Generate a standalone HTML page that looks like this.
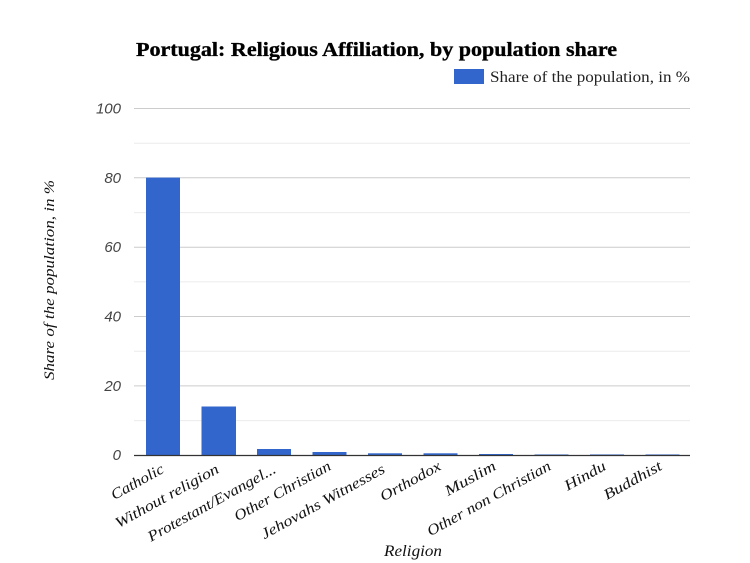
<!DOCTYPE html>
<html>
<head>
<meta charset="utf-8">
<style>
  html, body { margin: 0; padding: 0; background: #ffffff; }
  svg { display: block; }
  text { font-family: "Liberation Serif", "DejaVu Serif", serif; }
  text.sans { font-family: "Liberation Sans", "DejaVu Sans", sans-serif; }
</style>
</head>
<body>
<svg width="750" height="563" viewBox="0 0 750 563" xmlns="http://www.w3.org/2000/svg">
  <rect x="0" y="0" width="750" height="563" fill="#ffffff"/>

  <!-- Title -->
  <text x="136" y="56" font-size="20" font-weight="bold" fill="#000" stroke="#000" stroke-width="0.35" textLength="481" lengthAdjust="spacingAndGlyphs">Portugal: Religious Affiliation, by population share</text>

  <!-- Legend -->
  <rect x="454" y="69" width="30" height="15" fill="#3366cc"/>
  <text x="490" y="82" font-size="16" fill="#222" textLength="200" lengthAdjust="spacingAndGlyphs">Share of the population, in %</text>

  <!-- Minor gridlines -->
  <g stroke="#ebebeb" stroke-width="1">
    <line x1="134" y1="143.2" x2="690" y2="143.2"/>
    <line x1="134" y1="212.6" x2="690" y2="212.6"/>
    <line x1="134" y1="281.9" x2="690" y2="281.9"/>
    <line x1="134" y1="351.3" x2="690" y2="351.3"/>
    <line x1="134" y1="420.6" x2="690" y2="420.6"/>
  </g>
  <!-- Major gridlines -->
  <g stroke="#cccccc" stroke-width="1">
    <line x1="134" y1="108.5" x2="690" y2="108.5"/>
    <line x1="134" y1="177.8" x2="690" y2="177.8"/>
    <line x1="134" y1="247.2" x2="690" y2="247.2"/>
    <line x1="134" y1="316.5" x2="690" y2="316.5"/>
    <line x1="134" y1="385.9" x2="690" y2="385.9"/>
  </g>

  <!-- Y axis labels -->
  <g font-size="15" font-style="italic" fill="#444" text-anchor="end">
    <text class="sans" x="121" y="113.5">100</text>
    <text class="sans" x="121" y="182.8">80</text>
    <text class="sans" x="121" y="252.2">60</text>
    <text class="sans" x="121" y="321.5">40</text>
    <text class="sans" x="121" y="390.9">20</text>
    <text class="sans" x="121" y="460.2">0</text>
  </g>

  <!-- Y axis title -->
  <text transform="translate(54,280) rotate(-90)" font-size="15" font-style="italic" fill="#111" text-anchor="middle" textLength="200" lengthAdjust="spacingAndGlyphs">Share of the population, in %</text>

  <!-- Bars -->
  <g fill="#3366cc">
    <rect x="146" y="177.6" width="34" height="277.4"/>
    <rect x="201.5" y="406.5" width="34.5" height="48.5"/>
    <rect x="257" y="449" width="34" height="6"/>
    <rect x="312.5" y="452" width="34" height="3"/>
    <rect x="368" y="453.3" width="34" height="1.7"/>
    <rect x="423.5" y="453.3" width="34" height="1.7"/>
    <rect x="479" y="454" width="34" height="1"/>
  </g>
  <g fill="#7fa0e0">
    <rect x="534.5" y="454.2" width="34" height="0.8"/>
    <rect x="590" y="454.2" width="34" height="0.8"/>
    <rect x="645.5" y="454.2" width="34" height="0.8"/>
  </g>

  <!-- X axis baseline -->
  <line x1="134" y1="455.5" x2="690" y2="455.5" stroke="#333" stroke-width="1.2"/>

  <!-- X labels -->
  <g font-size="15" font-style="italic" fill="#111" text-anchor="end">
    <text transform="translate(165,472) rotate(-29)" textLength="58" lengthAdjust="spacingAndGlyphs">Catholic</text>
    <text transform="translate(220,472) rotate(-29)" textLength="116" lengthAdjust="spacingAndGlyphs">Without religion</text>
    <text transform="translate(277,472) rotate(-29)" textLength="144" lengthAdjust="spacingAndGlyphs">Protestant/Evangel...</text>
    <text transform="translate(332,469) rotate(-29)" textLength="108" lengthAdjust="spacingAndGlyphs">Other Christian</text>
    <text transform="translate(386,472) rotate(-29)" textLength="139" lengthAdjust="spacingAndGlyphs">Jehovahs Witnesses</text>
    <text transform="translate(442,469) rotate(-29)" textLength="67" lengthAdjust="spacingAndGlyphs">Orthodox</text>
    <text transform="translate(497,469) rotate(-29)" textLength="56" lengthAdjust="spacingAndGlyphs">Muslim</text>
    <text transform="translate(552,469) rotate(-29)" textLength="139" lengthAdjust="spacingAndGlyphs">Other non Christian</text>
    <text transform="translate(607,469) rotate(-29)" textLength="45" lengthAdjust="spacingAndGlyphs">Hindu</text>
    <text transform="translate(663,469) rotate(-29)" textLength="64" lengthAdjust="spacingAndGlyphs">Buddhist</text>
  </g>

  <!-- X axis title -->
  <text x="413" y="556" font-size="16" font-style="italic" fill="#111" text-anchor="middle" textLength="58" lengthAdjust="spacingAndGlyphs">Religion</text>
</svg>
</body>
</html>
